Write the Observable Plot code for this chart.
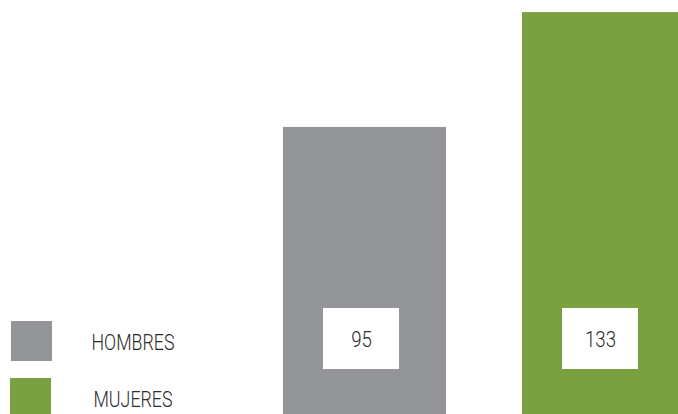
<!DOCTYPE html>
<html>
<head>
<meta charset="utf-8">
<script src="https://cdn.jsdelivr.net/npm/d3@7"></script>
<script src="https://cdn.jsdelivr.net/npm/@observablehq/plot@0.6"></script>
<style>
  html, body { margin: 0; padding: 0; background: #fff; overflow: hidden; }
  #wrap { position: relative; width: 678px; height: 414px; }
  .lg { position: absolute; left: 0; top: 0; font-family: Roboto, "DejaVu Sans Condensed", sans-serif; font-weight: 300; font-size: 22px; color: #2a2a2a; }
  .lg .sw { position: absolute; width: 41px; height: 40px; }
  .lg .tx { position: absolute; left: 133px; transform: translateX(-50%) scaleX(0.81); white-space: nowrap; line-height: 22px; }
</style>
</head>
<body>
<div id="wrap"></div>
<script>
const categories = ["HOMBRES", "MUJERES"];
const values = [95, 133];
const colors = ["#939598", "#7aa042"];

const data = categories.map((c, i) => ({category: c, value: values[i], color: colors[i]}));
const font = 'Roboto, "DejaVu Sans Condensed", sans-serif';

const chart = Plot.plot({
  width: 678,
  height: 414,
  margin: 0,
  style: {background: "white", fontFamily: font, overflow: "hidden"},
  x: {domain: categories, range: [282, 685], paddingInner: 0.32, paddingOuter: 0, axis: null},
  y: {domain: [0, 137], axis: null},
  marks: [
    Plot.barY(data, {x: "category", y: "value", fill: "color", clip: "frame"}),
    Plot.rect(data, {x: "category", fill: "white", insetLeft: 40, insetRight: 47, insetTop: 308, insetBottom: 45}),
    Plot.text(data, {x: "category", text: d => String(d.value), frameAnchor: "bottom", lineAnchor: "middle", dy: -75, dx: -3.5, fontSize: 22, fontWeight: 300, fill: "#2a2a2a", fontFamily: font, className: "vlabel"})
  ]
});

// narrow the value labels to match the condensed typeface
d3.select(chart).selectAll("g.vlabel text").each(function() {
  const t = this.getAttribute("transform") || "";
  this.setAttribute("transform", t + " scale(0.85,1)");
});

const wrap = document.getElementById("wrap");
wrap.appendChild(chart);

// legend
const swatchLefts = [11, 10];
const swatchTops = [321, 378];
const textTops = [332, 389];
categories.forEach((c, i) => {
  const lg = document.createElement("div");
  lg.className = "lg";
  lg.innerHTML = `<div class="sw" style="left:${swatchLefts[i]}px;top:${swatchTops[i]}px;background:${colors[i]}"></div><div class="tx" style="top:${textTops[i]}px">${c}</div>`;
  wrap.appendChild(lg);
});
</script>
</body>
</html>
